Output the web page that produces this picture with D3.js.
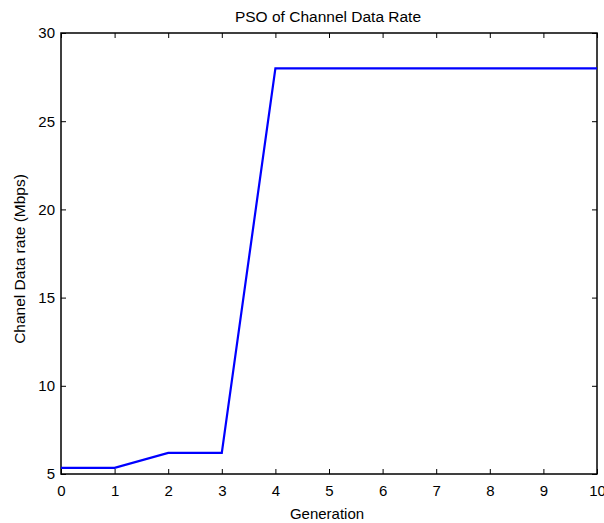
<!DOCTYPE html>
<html>
<head>
<meta charset="utf-8">
<script src="https://cdn.jsdelivr.net/npm/d3@7"></script>
<style>
  body { margin: 0; background: #fff; }
  svg { display: block; font-family: "Liberation Sans", Arial, sans-serif; }
</style>
</head>
<body>
<div id="container"></div>
<script>
/* DATA */
const generations = [0, 1, 2, 3, 4, 5, 6, 7, 8, 9, 10];
const dataRate = [5.35, 5.35, 6.2, 6.2, 28, 28, 28, 28, 28, 28, 28];
const xTicks = [0, 1, 2, 3, 4, 5, 6, 7, 8, 9, 10];
const yTicks = [5, 10, 15, 20, 25, 30];

/* CONSTANTS */
const width = 604,
  height = 523,
  margin = { top: 33, bottom: 49, left: 61, right: 7 },
  fontSize = 15;

const svg = d3.select("#container")
  .append("svg")
  .attr("width", width)
  .attr("height", height);

const x = d3.scaleLinear()
  .domain([0, 10])
  .range([margin.left, width - margin.right]);

const y = d3.scaleLinear()
  .domain([5, 30])
  .range([height - margin.bottom, margin.top]);

// inward ticks on all four sides, like a matlab box
const tick = 5;

svg.append("g")
  .attr("transform", `translate(0,${height - margin.bottom})`)
  .call(d3.axisBottom(x).tickValues(xTicks).tickSize(-tick).tickPadding(11))
  .call(g => g.select(".domain").remove());

svg.append("g")
  .attr("transform", `translate(0,${margin.top})`)
  .call(d3.axisTop(x).tickValues(xTicks).tickSize(-tick).tickFormat(""))
  .call(g => g.select(".domain").remove());

svg.append("g")
  .attr("transform", `translate(${margin.left},0)`)
  .call(d3.axisLeft(y).tickValues(yTicks).tickSize(-tick).tickPadding(6))
  .call(g => g.select(".domain").remove());

svg.append("g")
  .attr("transform", `translate(${width - margin.right},0)`)
  .call(d3.axisRight(y).tickValues(yTicks).tickSize(-tick).tickFormat(""))
  .call(g => g.select(".domain").remove());

svg.selectAll(".tick text")
  .attr("font-size", fontSize)
  .attr("fill", "#000")
  .attr("font-family", "Liberation Sans, Arial, sans-serif");

svg.selectAll(".tick line").attr("stroke", "#000");

// box
svg.append("rect")
  .attr("x", margin.left)
  .attr("y", margin.top)
  .attr("width", width - margin.left - margin.right)
  .attr("height", height - margin.top - margin.bottom)
  .attr("fill", "none")
  .attr("stroke", "#000")
  .attr("stroke-width", 1.5);

// line
const line = d3.line()
  .x((d, i) => x(generations[i]))
  .y(d => y(d));

svg.append("path")
  .datum(dataRate)
  .attr("fill", "none")
  .attr("stroke", "#0000ff")
  .attr("stroke-width", 2.2)
  .attr("d", line);

// titles
svg.append("text")
  .attr("x", 328)
  .attr("y", 22)
  .attr("text-anchor", "middle")
  .attr("font-size", 15.5)
  .text("PSO of Channel Data Rate");

svg.append("text")
  .attr("x", 327)
  .attr("y", 519)
  .attr("text-anchor", "middle")
  .attr("font-size", fontSize)
  .text("Generation");

svg.append("text")
  .attr("transform", `translate(25,259) rotate(-90)`)
  .attr("text-anchor", "middle")
  .attr("font-size", 15.5)
  .text("Chanel Data rate (Mbps)");
</script>
</body>
</html>
